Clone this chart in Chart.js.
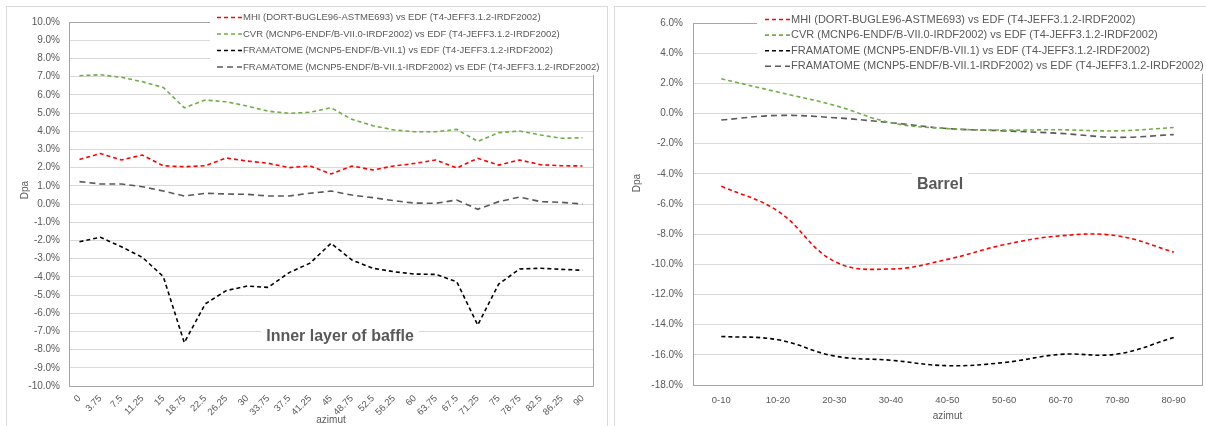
<!DOCTYPE html>
<html>
<head>
<meta charset="utf-8">
<script src="https://cdn.jsdelivr.net/npm/chart.js"></script>
<style>
  html, body { margin: 0; padding: 0; background: #fff; width: 1206px; height: 426px; overflow: hidden; }
  .box { position: absolute; top: 6px; border: 1px solid #d9d9d9; background: #fff; }
  #boxL { left: 6px; width: 600px; height: 430px; }
  #boxR { left: 614px; width: 600px; height: 430px; }
  canvas { display: block; }
</style>
</head>
<body>
<div class="box" id="boxL"><canvas id="chartL" width="600" height="419"></canvas></div>
<div class="box" id="boxR"><canvas id="chartR" width="591" height="419"></canvas></div>
<script>
// inner layer of baffle (values in %)
const catsL = ['0','3.75','7.5','11.25','15','18.75','22.5','26.25','30','33.75','37.5','41.25','45',
    '48.75','52.5','56.25','60','63.75','67.5','71.25','75','78.75','82.5','86.25','90'];
const mhiL = [2.45,2.77,2.42,2.69,2.10,2.05,2.10,2.53,2.36,2.24,2.00,2.09,1.65,2.09,1.87,2.09,2.23,2.42,1.98,2.51,2.14,2.42,2.16,2.10,2.09];
const cvrL = [7.05,7.10,6.96,6.72,6.40,5.29,5.71,5.62,5.38,5.10,4.98,5.04,5.29,4.65,4.30,4.07,3.97,3.97,4.10,3.44,3.92,4.01,3.79,3.61,3.64];
const fraL = [-2.07,-1.83,-2.35,-2.93,-3.99,-7.62,-5.49,-4.76,-4.51,-4.58,-3.77,-3.25,-2.16,-3.08,-3.53,-3.72,-3.85,-3.87,-4.27,-6.65,-4.40,-3.57,-3.53,-3.59,-3.64];
const fra2L = [1.23,1.10,1.10,0.95,0.71,0.44,0.59,0.55,0.53,0.44,0.44,0.59,0.71,0.49,0.35,0.18,0.05,0.04,0.22,-0.29,0.13,0.38,0.13,0.09,0.00];

// barrel (values in %)
const catsR = ['0-10','10-20','20-30','30-40','40-50','50-60','60-70','70-80','80-90'];
const mhiR = [-4.82,-6.47,-9.80,-10.31,-9.67,-8.70,-8.11,-8.11,-9.19];
const cvrR = [2.30,1.42,0.54,-0.61,-1.00,-1.10,-1.08,-1.15,-0.93];
const fraR = [-14.78,-15.00,-16.08,-16.36,-16.72,-16.51,-15.97,-15.95,-14.85];
const fra2R = [-0.43,-0.13,-0.28,-0.61,-1.00,-1.15,-1.32,-1.58,-1.40];

const labels = [
    'MHI (DORT-BUGLE96-ASTME693) vs EDF (T4-JEFF3.1.2-IRDF2002)',
    'CVR (MCNP6-ENDF/B-VII.0-IRDF2002) vs EDF (T4-JEFF3.1.2-IRDF2002)',
    'FRAMATOME (MCNP5-ENDF/B-VII.1) vs EDF (T4-JEFF3.1.2-IRDF2002)',
    'FRAMATOME (MCNP5-ENDF/B-VII.1-IRDF2002) vs EDF (T4-JEFF3.1.2-IRDF2002)'
];
const colors = ['#ff0000', '#70ad47', '#000000', '#595959'];
const dashes = [[4, 3], [4, 3], [4, 3], [6, 4]];

const textColor = '#595959';
const fontFamily = '"Liberation Sans", Arial, sans-serif';

function makeSets(series, tension) {
    return series.map((data, i) => ({
        label: labels[i],
        data: data,
        borderColor: colors[i],
        borderDash: dashes[i],
        borderWidth: 1.6,
        pointRadius: 0,
        fill: false,
        tension: tension
    }));
}

// plot border, axis title, white legend box and the caption text
const decor = {
    id: 'decor',
    afterDatasetsDraw(chart, args, opts) {
        const ctx = chart.ctx;
        const a = chart.chartArea;
        ctx.save();
        ctx.setLineDash([]);
        ctx.strokeStyle = '#a6a6a6';
        ctx.lineWidth = 1;
        ctx.strokeRect(Math.round(a.left) + 0.5, Math.round(a.top) + 0.5,
            Math.round(a.right - a.left), Math.round(a.bottom - a.top));

        // y axis title
        ctx.fillStyle = textColor;
        ctx.font = '10px ' + fontFamily;
        ctx.textAlign = 'center';
        ctx.textBaseline = 'middle';
        ctx.save();
        ctx.translate(opts.titleX, opts.titleY);
        ctx.rotate(-Math.PI / 2);
        ctx.fillText('Dpa', 0, 0);
        ctx.restore();

        // caption
        ctx.font = 'bold ' + opts.noteSize + 'px ' + fontFamily;
        const tw = ctx.measureText(opts.note).width;
        ctx.fillStyle = '#fff';
        ctx.fillRect(opts.noteX - tw / 2 - 5, opts.noteY - 12, tw + 10, 24);
        ctx.fillStyle = textColor;
        ctx.fillText(opts.note, opts.noteX, opts.noteY);

        // legend
        const lg = opts.legend;
        ctx.fillStyle = '#fff';
        ctx.fillRect(lg.x, lg.y, lg.w, lg.h);
        ctx.font = lg.size + 'px ' + fontFamily;
        ctx.textAlign = 'left';
        chart.data.datasets.forEach((ds, i) => {
            const ry = lg.row0 + i * lg.gap;
            ctx.setLineDash(ds.borderDash);
            ctx.strokeStyle = ds.borderColor;
            ctx.lineWidth = ds.borderWidth;
            ctx.beginPath();
            ctx.moveTo(lg.sx, ry);
            ctx.lineTo(lg.sx + 25, ry);
            ctx.stroke();
            ctx.setLineDash([]);
            ctx.fillStyle = textColor;
            ctx.fillText(ds.label, lg.sx + 26, ry);
        });
        ctx.restore();
    }
};

Chart.defaults.font.family = fontFamily;
Chart.defaults.color = textColor;

new Chart(document.getElementById('chartL'), {
    type: 'line',
    data: { labels: catsL, datasets: makeSets([mhiL, cvrL, fraL, fra2L], 0) },
    plugins: [decor],
    options: {
        responsive: false,
        animation: false,
        layout: { padding: { left: 0, top: 15, right: 14, bottom: 0 } },
        plugins: {
            legend: { display: false },
            tooltip: { enabled: false },
            decor: {
                titleX: 18, titleY: 183,
                note: 'Inner layer of baffle', noteSize: 16, noteX: 333, noteY: 330,
                legend: { x: 203, y: 1, w: 392, h: 67, sx: 210, row0: 10.5, gap: 16.5, size: 9.5 }
            }
        },
        scales: {
            x: {
                offset: true,
                grid: { display: false, drawTicks: false },
                border: { display: false },
                ticks: { autoSkip: false, minRotation: 45, maxRotation: 45, padding: 7, font: { size: 9.5 } },
                title: { display: true, text: 'azimut', font: { size: 10 }, padding: { top: 0, bottom: 0 } },
                afterFit: s => { s.height = 40; }
            },
            y: {
                min: -10, max: 10,
                grid: { color: '#d9d9d9', drawTicks: false },
                border: { display: false },
                ticks: { stepSize: 1, padding: 9, font: { size: 10 }, callback: v => v.toFixed(1) + '%' },
                afterFit: s => { s.width = 62; }
            }
        }
    }
});

new Chart(document.getElementById('chartR'), {
    type: 'line',
    data: { labels: catsR, datasets: makeSets([mhiR, cvrR, fraR, fra2R], 0.4) },
    plugins: [decor],
    options: {
        responsive: false,
        animation: false,
        layout: { padding: { left: 0, top: 7, right: 4, bottom: 0 } },
        plugins: {
            legend: { display: false },
            tooltip: { enabled: false },
            decor: {
                titleX: 22, titleY: 176,
                note: 'Barrel', noteSize: 16, noteX: 325, noteY: 178,
                legend: { x: 142, y: 1, w: 449, h: 66, sx: 150, row0: 12.5, gap: 15.6, size: 11 }
            }
        },
        scales: {
            x: {
                offset: true,
                grid: { display: false, drawTicks: false },
                border: { display: false },
                ticks: { autoSkip: false, maxRotation: 0, padding: 10, font: { size: 9.5 } },
                title: { display: true, text: 'azimut', font: { size: 10 }, padding: { top: 0, bottom: 4 } },
                afterFit: s => { s.height = 41; }
            },
            y: {
                min: -18, max: 6,
                grid: { color: '#d9d9d9', drawTicks: false },
                border: { display: false },
                ticks: { stepSize: 2, padding: 10, font: { size: 10 }, callback: v => v.toFixed(1) + '%' },
                afterFit: s => { s.width = 78; }
            }
        }
    }
});
</script>
</body>
</html>
